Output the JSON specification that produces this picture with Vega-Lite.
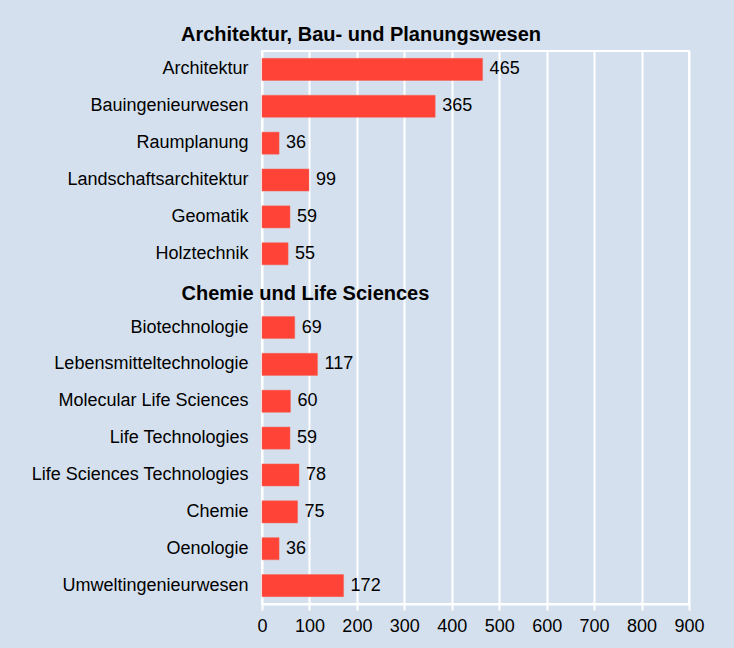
{
  "$schema": "https://vega.github.io/schema/vega-lite/v6.json",
  "autosize": "none",
  "width": 427,
  "height": 553,
  "padding": {"left": 262, "top": 51, "right": 45, "bottom": 44},
  "background": "#d5e0ee",
  "title": {
    "text": "Architektur, Bau- und Planungswesen",
    "anchor": "start",
    "frame": "group",
    "dx": -81,
    "offset": 6,
    "font": "Liberation Sans",
    "fontSize": 20,
    "fontWeight": "bold",
    "color": "#000000"
  },
  "config": {
    "view": {"stroke": "#ffffff", "strokeWidth": 2},
    "font": "Liberation Sans"
  },
  "data": {
    "values": [
      {"label": "Architektur", "value": 465},
      {"label": "Bauingenieurwesen", "value": 365},
      {"label": "Raumplanung", "value": 36},
      {"label": "Landschaftsarchitektur", "value": 99},
      {"label": "Geomatik", "value": 59},
      {"label": "Holztechnik", "value": 55},
      {"label": "Chemie und Life Sciences", "value": null},
      {"label": "Biotechnologie", "value": 69},
      {"label": "Lebensmitteltechnologie", "value": 117},
      {"label": "Molecular Life Sciences", "value": 60},
      {"label": "Life Technologies", "value": 59},
      {"label": "Life Sciences Technologies", "value": 78},
      {"label": "Chemie", "value": 75},
      {"label": "Oenologie", "value": 36},
      {"label": "Umweltingenieurwesen", "value": 172}
    ]
  },
  "encoding": {
    "y": {
      "field": "label",
      "type": "nominal",
      "sort": null,
      "scale": {
        "domain": ["Architektur", "Bauingenieurwesen", "Raumplanung", "Landschaftsarchitektur", "Geomatik", "Holztechnik", "Chemie und Life Sciences", "Biotechnologie", "Lebensmitteltechnologie", "Molecular Life Sciences", "Life Technologies", "Life Sciences Technologies", "Chemie", "Oenologie", "Umweltingenieurwesen"],
        "paddingInner": 0.4,
        "paddingOuter": 0.2
      },
      "axis": {
        "title": null,
        "domain": false,
        "ticks": false,
        "grid": false,
        "labelFontSize": {"condition": {"test": "datum.value === 'Chemie und Life Sciences'", "value": 20}, "value": 18},
        "labelFontWeight": {"condition": {"test": "datum.value === 'Chemie und Life Sciences'", "value": "bold"}, "value": "normal"},
        "labelAlign": {"condition": {"test": "datum.value === 'Chemie und Life Sciences'", "value": "left"}, "value": "right"},
        "labelPadding": {"condition": {"test": "datum.value === 'Chemie und Life Sciences'", "value": 81}, "value": 14},
        "labelOffset": {"condition": {"test": "datum.value === 'Chemie und Life Sciences'", "value": 3}, "value": 0},
        "labelColor": "#000000",
        "labelLimit": 400
      }
    },
    "x": {
      "field": "value",
      "type": "quantitative",
      "scale": {"domain": [0, 900], "nice": false},
      "axis": {
        "title": null,
        "values": [0, 100, 200, 300, 400, 500, 600, 700, 800, 900],
        "grid": true,
        "gridColor": "#ffffff",
        "gridWidth": 2,
        "gridOpacity": 1,
        "domainColor": "#ffffff",
        "domainWidth": 2,
        "tickColor": "#ffffff",
        "tickWidth": 2,
        "tickSize": 6,
        "labelPadding": 7,
        "labelFontSize": 18,
        "labelColor": "#000000",
        "labelFlush": false
      }
    }
  },
  "layer": [
    {
      "mark": {"type": "bar", "color": "#ff4337", "stroke": "#f06a5e", "strokeWidth": 0.5}
    },
    {
      "mark": {"type": "text", "align": "left", "baseline": "middle", "dx": 7, "fontSize": 18, "color": "#000000"},
      "encoding": {"text": {"field": "value", "type": "quantitative"}}
    }
  ]
}
